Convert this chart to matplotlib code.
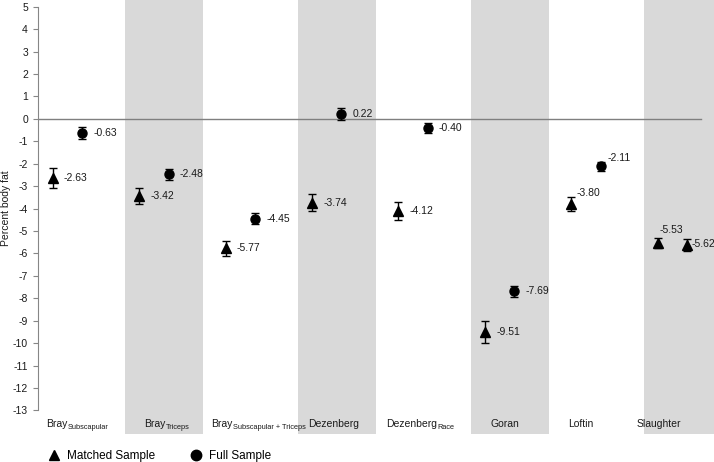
import matplotlib
matplotlib.use('Agg')
import matplotlib.pyplot as plt
from matplotlib.lines import Line2D

plt.rcParams['font.family'] = ['Liberation Sans', 'DejaVu Sans']

# ---- data ----
studies = ["Bray", "Bray", "Bray", "Dezenberg", "Dezenberg", "Goran", "Loftin", "Slaughter"]
subscripts = ["Subscapular", "Triceps", "Subscapular + Triceps", "", "Race", "", "", ""]
matched = [-2.63, -3.42, -5.77, -3.74, -4.12, -9.51, -3.80, -5.53]
matched_err = [0.45, 0.36, 0.33, 0.37, 0.40, 0.50, 0.30, 0.22]
full = [-0.63, -2.48, -4.45, 0.22, -0.40, -7.69, -2.11, -5.62]
full_err = [0.25, 0.26, 0.25, 0.25, 0.22, 0.25, 0.20, 0.25]
yticks = list(range(-13, 6))

# ---- layout / style ----
full_markers = ['o', 'o', 'o', 'o', 'o', 'o', 'o', '^']
matched_lab_off = [(8, 0), (8, 0), (8, 0), (8, 0), (8, 0), (8, 0), (4, 8), (1, 9.5)]
full_lab_off = [(8, 0), (8, 0), (8, 0), (8, 0), (8, 0), (8, 0), (5, 6), (3, 1)]
cat_label_dx = [0.09, 0.23, 0.0, 0.12, 0.03, 0.23, 0.13, -0.07]
label_base = -13.74

fig = plt.figure(figsize=(7.14, 4.62), dpi=100)
ax = fig.add_axes([38 / 714, 1 - 434 / 462, 1 - 38 / 714, 434 / 462])
ax.set_xlim(0, 7.82)
ax.set_ylim(-14.05, 5.3)

n = len(matched)
for i in range(n):
    if i % 2 == 1:
        ax.axvspan(i + 0.01, i + 0.91, color='#d9d9d9', lw=0, zorder=0)

ax.axhline(0, xmin=0, xmax=7.67 / 7.82, color='#7f7f7f', lw=1, zorder=1)

cat_texts = []
for i in range(n):
    xm = i + 0.17
    xf = i + 0.51
    ax.errorbar(xm, matched[i], yerr=matched_err[i], fmt='^', color='black',
                ms=6.5, capsize=2.6, elinewidth=1, capthick=1, zorder=3)
    ax.errorbar(xf, full[i], yerr=full_err[i], fmt=full_markers[i], color='black',
                ms=6.5, capsize=2.6, elinewidth=1, capthick=1, zorder=3)
    ax.annotate(f"{matched[i]:.2f}", (xm, matched[i]), xytext=matched_lab_off[i],
                textcoords='offset points', ha='left', va='center', fontsize=7.5,
                color='#1a1a1a')
    ax.annotate(f"{full[i]:.2f}", (xf, full[i]), xytext=full_lab_off[i],
                textcoords='offset points', ha='left', va='center', fontsize=7.5,
                color='#1a1a1a')
    t = ax.text(i + cat_label_dx[i], label_base, studies[i], ha='left', va='baseline',
                fontsize=7.5, color='#1a1a1a')
    cat_texts.append(t)

fig.canvas.draw()
renderer = fig.canvas.get_renderer()
for i, t in enumerate(cat_texts):
    if subscripts[i]:
        bb = t.get_window_extent(renderer=renderer)
        x0, _ = fig.transFigure.inverted().transform((bb.x1, bb.y0))
        _, yb = ax.transData.transform((0, label_base))
        _, yfig = fig.transFigure.inverted().transform((0, yb - 1.5))
        fig.text(x0 + 0.5 / 714, yfig, subscripts[i], ha='left', va='baseline',
                 fontsize=5.3, color='#1a1a1a')

for s in ['top', 'right', 'bottom']:
    ax.spines[s].set_visible(False)
ax.spines['left'].set_bounds(-13, 5)
ax.spines['left'].set_color('#868686')
ax.set_yticks(yticks)
ax.set_yticklabels([str(t) for t in yticks])
ax.tick_params(axis='y', length=3.6, width=0.8, color='#868686', pad=3.6,
               labelsize=7.5, labelcolor='#1a1a1a')
ax.set_xticks([])

fig.text(6 / 714, 1 - 208 / 462, "Percent body fat", rotation=90, ha='center',
         va='center', fontsize=7.5, color='#1a1a1a')

handles = [Line2D([], [], marker='^', color='black', ls='none', ms=7.5),
           Line2D([], [], marker='o', color='black', ls='none', ms=7.5)]
fig.legend(handles, ["Matched Sample", "Full Sample"], ncol=2, loc='center left',
           bbox_to_anchor=(48 / 714, 1 - 456 / 462), frameon=False, fontsize=8.5,
           handlelength=1.0, handletextpad=0.6, columnspacing=3.0, borderpad=0,
           borderaxespad=0)

fig.savefig('out.png', dpi=100)
